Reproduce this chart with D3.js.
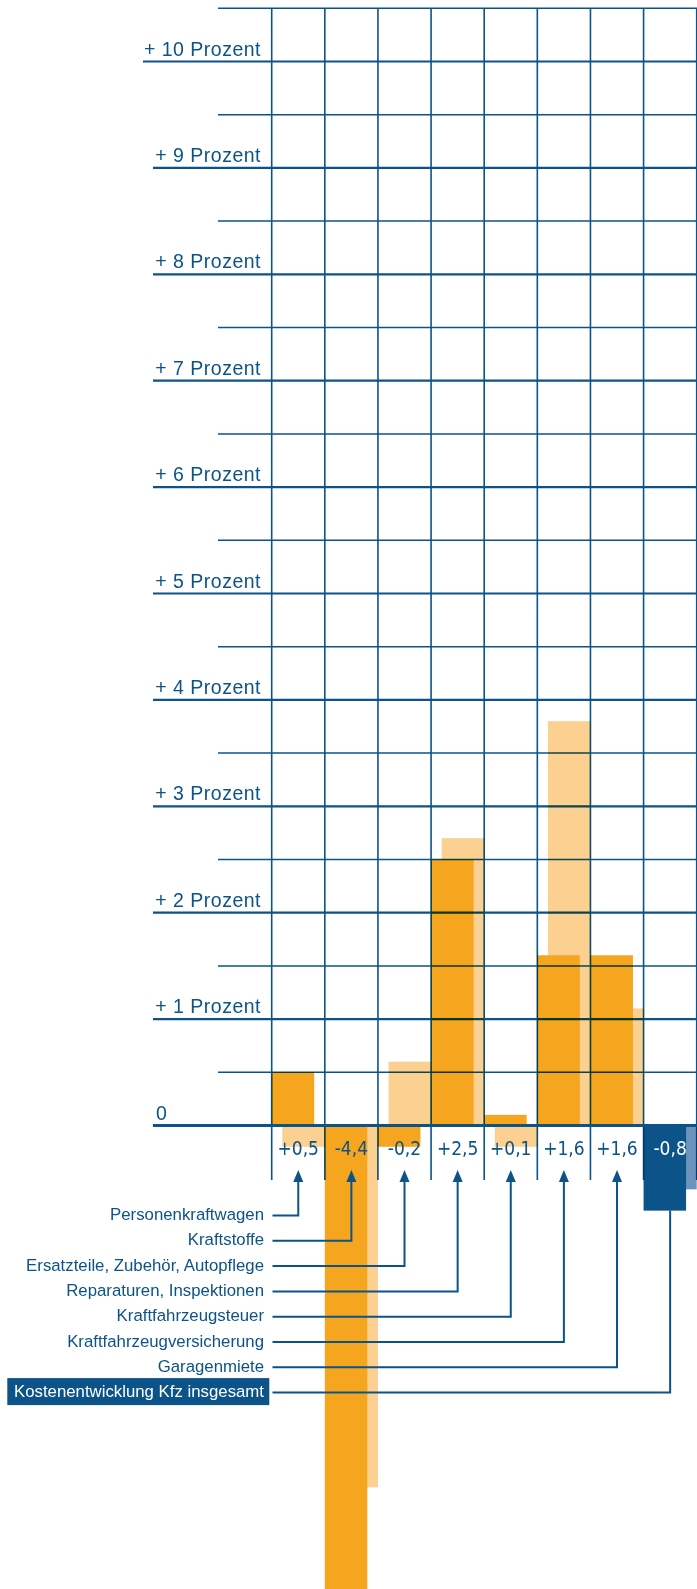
<!DOCTYPE html>
<html>
<head>
<meta charset="utf-8">
<script src="https://cdn.jsdelivr.net/npm/d3@7"></script>
<style>
  body { margin: 0; background: #fff; }
  svg { display: block; }
</style>
</head>
<body>
<div id="chart"></div>
<script>
// Data: price change of car costs, current vs previous period (percent)
var categories = ["Personenkraftwagen", "Kraftstoffe", "Ersatzteile, Zubehör, Autopflege",
    "Reparaturen, Inspektionen", "Kraftfahrzeugsteuer", "Kraftfahrzeugversicherung",
    "Garagenmiete", "Kostenentwicklung Kfz insgesamt"];
var currentValues = [0.5, -4.4, -0.2, 2.5, 0.1, 1.6, 1.6, -0.8];
var previousValues = [-0.2, -3.4, 0.6, 2.7, -0.2, 3.8, 1.1, -0.6];
var valueLabels = ["+0,5", "-4,4", "-0,2", "+2,5", "+0,1", "+1,6", "+1,6", "-0,8"];
var tickValues = [1, 2, 3, 4, 5, 6, 7, 8, 9, 10];
var tickLabels = ["+ 1 Prozent", "+ 2 Prozent", "+ 3 Prozent", "+ 4 Prozent", "+ 5 Prozent",
    "+ 6 Prozent", "+ 7 Prozent", "+ 8 Prozent", "+ 9 Prozent", "+ 10 Prozent"];

var svgWidth = 697;
var svgHeight = 1589;

var blue = "#0b5388";
var orange = "#f6a61e";
var lightOrange = "#fbd090";
var lightBlue = "#6b93bb";

var svg = d3.select("#chart")
    .append("svg")
    .attr("width", svgWidth)
    .attr("height", svgHeight);

// scales
var xScale = d3.scaleBand()
    .domain(categories)
    .range([271.7, 696.7])
    .padding(0);
var bw = xScale.bandwidth();

var yScale = d3.scaleLinear()
    .domain([0, 10])
    .range([1125.5, 1125.5 - 1064]);

var isTotal = function(i) { return i === categories.length - 1; };

// bars: previous period (light) behind current (dark)
var bars = svg.append("g");
bars.selectAll("rect.prev")
    .data(categories)
    .enter()
    .append("rect")
    .attr("class", "prev")
    .attr("x", d => xScale(d) + bw * 0.2)
    .attr("width", bw * 0.8)
    .attr("y", (d, i) => yScale(Math.max(0, previousValues[i])))
    .attr("height", (d, i) => Math.abs(yScale(previousValues[i]) - yScale(0)))
    .attr("fill", (d, i) => isTotal(i) ? lightBlue : lightOrange);

bars.selectAll("rect.cur")
    .data(categories)
    .enter()
    .append("rect")
    .attr("class", "cur")
    .attr("x", d => xScale(d))
    .attr("width", bw * 0.8)
    .attr("y", (d, i) => yScale(Math.max(0, currentValues[i])))
    .attr("height", (d, i) => Math.abs(yScale(currentValues[i]) - yScale(0)))
    .attr("fill", (d, i) => isTotal(i) ? blue : orange);

// grid on top (multiply so it darkens the bars)
var grid = svg.append("g").style("mix-blend-mode", "multiply");

var halfSteps = d3.range(1, 22).map(d => d / 2);
grid.selectAll("line.h")
    .data(halfSteps)
    .enter()
    .append("line")
    .attr("x1", d => d === 10 ? 143 : (Number.isInteger(d) ? 153 : 218))
    .attr("x2", svgWidth)
    .attr("y1", d => yScale(d))
    .attr("y2", d => yScale(d))
    .attr("stroke", blue)
    .attr("stroke-width", d => Number.isInteger(d) ? 2.2 : 1.5);

var edges = categories.map(d => xScale(d)).concat([xScale.range()[1]]);
grid.selectAll("line.v")
    .data(edges)
    .enter()
    .append("line")
    .attr("x1", d => d)
    .attr("x2", d => d)
    .attr("y1", yScale(10.5))
    .attr("y2", 1180)
    .attr("stroke", blue)
    .attr("stroke-width", 1.6);

// zero line
svg.append("line")
    .attr("x1", 153)
    .attr("x2", svgWidth)
    .attr("y1", yScale(0))
    .attr("y2", yScale(0))
    .attr("stroke", blue)
    .attr("stroke-width", 3);

// y tick labels
svg.append("g")
    .selectAll("text")
    .data(tickValues)
    .enter()
    .append("text")
    .attr("x", 261)
    .attr("y", d => yScale(d) - 6)
    .attr("text-anchor", "end")
    .style("font-family", "'Liberation Sans', Arial, sans-serif")
    .style("font-size", "19.5px")
    .style("letter-spacing", "0.5px")
    .style("fill", blue)
    .text((d, i) => tickLabels[i]);

svg.append("text")
    .attr("x", 156)
    .attr("y", yScale(0) - 6)
    .style("font-family", "'Liberation Sans', Arial, sans-serif")
    .style("font-size", "19.5px")
    .style("fill", blue)
    .text("0");

// value labels under the zero line
svg.append("g")
    .selectAll("text")
    .data(categories)
    .enter()
    .append("text")
    .attr("x", d => xScale(d) + bw / 2)
    .attr("y", 1155)
    .attr("text-anchor", "middle")
    .style("font-family", "'Liberation Sans Narrow', 'DejaVu Sans Condensed', sans-serif")
    .style("font-stretch", "condensed")
    .style("font-size", "19px")
    .style("fill", (d, i) => isTotal(i) ? "#fff" : blue)
    .text((d, i) => valueLabels[i]);

// category labels with leader lines and arrows
var rowY = i => 1220 + i * 25.3;
var labels = svg.append("g");

labels.append("rect")
    .attr("x", 7.3)
    .attr("y", rowY(categories.length - 1) - 19)
    .attr("width", 262)
    .attr("height", 27)
    .attr("fill", blue);

labels.selectAll("text")
    .data(categories)
    .enter()
    .append("text")
    .attr("x", 264)
    .attr("y", (d, i) => rowY(i))
    .attr("text-anchor", "end")
    .style("font-family", "'Liberation Sans', Arial, sans-serif")
    .style("font-size", "16.8px")
    .style("fill", (d, i) => isTotal(i) ? "#fff" : blue)
    .text(d => d);

labels.selectAll("path.leader")
    .data(categories)
    .enter()
    .append("path")
    .attr("class", "leader")
    .attr("d", function(d, i) {
        var cx = xScale(d) + bw / 2;
        var top = isTotal(i) ? yScale(currentValues[i]) : 1180;
        return "M272.5," + (rowY(i) - 4.5) + "H" + cx + "V" + top;
    })
    .attr("fill", "none")
    .attr("stroke", blue)
    .attr("stroke-width", 2);

labels.selectAll("path.arrow")
    .data(categories.filter((d, i) => !isTotal(i)))
    .enter()
    .append("path")
    .attr("class", "arrow")
    .attr("d", function(d) {
        var cx = xScale(d) + bw / 2;
        return "M" + cx + ",1170L" + (cx - 5) + ",1182L" + (cx + 5) + ",1182Z";
    })
    .attr("fill", blue);
</script>
</body>
</html>
